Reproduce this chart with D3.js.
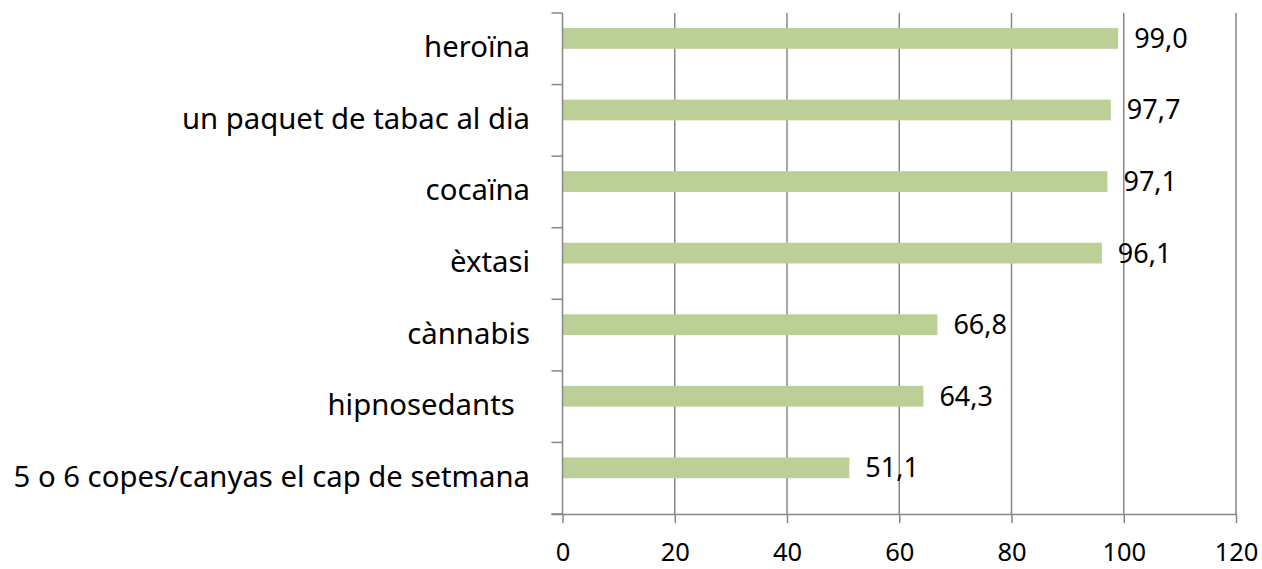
<!DOCTYPE html>
<html><head><meta charset="utf-8">
<script src="https://cdn.jsdelivr.net/npm/d3@7"></script>
<style>
html,body{margin:0;padding:0;background:#fff;}
svg{display:block;font-family:"Noto Sans","Open Sans",sans-serif;}
</style></head>
<body>
<svg id="c" width="1262" height="569"></svg>
<script>
const categories = ["heroïna","un paquet de tabac al dia","cocaïna","èxtasi","cànnabis","hipnosedants  ","5 o 6 copes/canyas el cap de setmana"];
const values = [99.0, 97.7, 97.1, 96.1, 66.8, 64.3, 51.1];
const xTicks = [0,20,40,60,80,100,120];

const svg = d3.select("#c");
const x = d3.scaleLinear().domain([0,120]).range([562.5,1236]);
const y = d3.scaleBand().domain(categories).range([13,514]).padding(0);
const bw = y.bandwidth();
const gray = "#878787";

// gridlines
svg.append("g").selectAll("line").data(xTicks.filter(d=>d>0)).join("line")
  .attr("x1",d=>x(d)).attr("x2",d=>x(d)).attr("y1",13).attr("y2",514)
  .attr("stroke",gray).attr("stroke-width",1.5);

// bars
svg.append("g").selectAll("rect").data(values).join("rect")
  .attr("x",x(0)).attr("y",(d,i)=>y(categories[i])+bw*0.21)
  .attr("width",d=>x(d)-x(0)).attr("height",bw*0.29)
  .attr("fill","#BBCF97");

// x axis
const xa = svg.append("g").attr("transform","translate(0,514)")
  .call(d3.axisBottom(x).tickValues(xTicks).tickSize(9).tickPadding(20).tickFormat(d3.format("d")));
xa.select(".domain").attr("stroke",gray).attr("stroke-width",1.5).attr("d",`M${x(0)-11},0.5H${x(120)}`);
xa.selectAll(".tick line").attr("stroke",gray).attr("stroke-width",1.5);
xa.selectAll(".tick text").attr("font-size",25.5).attr("fill","#000").attr("font-family","Noto Sans");

// y axis line and ticks at band boundaries
const bounds = categories.map(c=>y(c)).concat([514]);
svg.append("line").attr("x1",x(0)).attr("x2",x(0)).attr("y1",13).attr("y2",514).attr("stroke",gray).attr("stroke-width",1.5);
svg.append("g").selectAll("line").data(bounds).join("line")
  .attr("x1",x(0)-11).attr("x2",x(0)).attr("y1",d=>d).attr("y2",d=>d)
  .attr("stroke",gray).attr("stroke-width",1.5);

// category labels
svg.append("g").selectAll("text").data(categories).join("text")
  .attr("x",530).attr("y",d=>y(d)+bw/2).attr("dy","0.29em")
  .attr("text-anchor","end").attr("font-size",29.3).attr("fill","#000")
  .style("white-space","pre")
  .text(d=>d);

// value labels
svg.append("g").selectAll("text").data(values).join("text")
  .attr("x",d=>x(d)+16).attr("y",(d,i)=>y(categories[i])+bw*0.21+bw*0.145).attr("dy","0.35em")
  .attr("font-size",27).attr("fill","#000")
  .text(d=>d3.format(".1f")(d).replace(".",","));
</script>
</body></html>
